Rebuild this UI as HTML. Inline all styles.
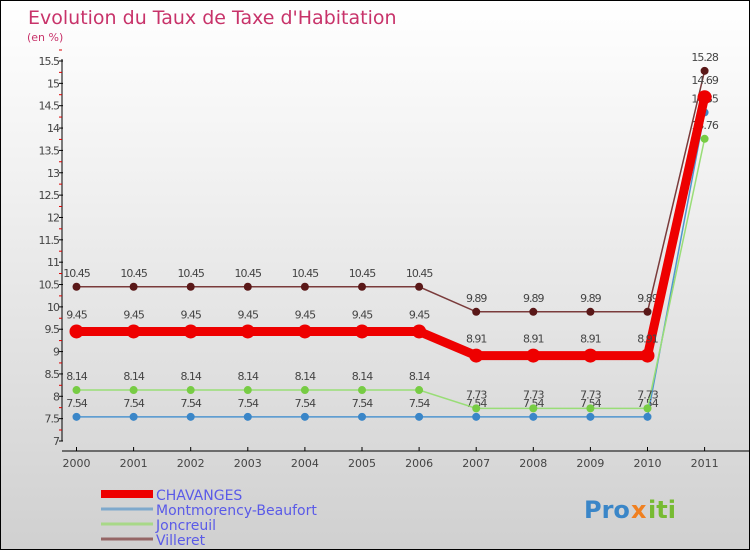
<!DOCTYPE html>
<html><head><meta charset="utf-8"><style>
body{margin:0}
#c{width:750px;height:550px;position:relative;box-sizing:border-box;border:1px solid #000;background:linear-gradient(#ffffff,#f2f2f2 30%,#d0d0d0);font-family:"DejaVu Sans","Liberation Sans",sans-serif;overflow:hidden}
</style></head><body>
<div id="c">
<svg id="s" width="750" height="550" style="position:absolute;left:0;top:0"></svg>
</div>
<script>
const years=["2000","2001","2002","2003","2004","2005","2006","2007","2008","2009","2010","2011"];
const yTicks=[7,7.5,8,8.5,9,9.5,10,10.5,11,11.5,12,12.5,13,13.5,14,14.5,15,15.5];
const chavanges=[9.45,9.45,9.45,9.45,9.45,9.45,9.45,8.91,8.91,8.91,8.91,14.69];
const montmorency=[7.54,7.54,7.54,7.54,7.54,7.54,7.54,7.54,7.54,7.54,7.54,14.35];
const joncreuil=[8.14,8.14,8.14,8.14,8.14,8.14,8.14,7.73,7.73,7.73,7.73,13.76];
const villeret=[10.45,10.45,10.45,10.45,10.45,10.45,10.45,9.89,9.89,9.89,9.89,15.28];
const seriesNames=["CHAVANGES","Montmorency-Beaufort","Joncreuil","Villeret"];
const NS="http://www.w3.org/2000/svg",svg=document.getElementById('s');
function X(i){return 75.5+i*57.1}
function Y(v){return 440-(v-7)*(380/8.5)}
function el(t,a,txt){const e=document.createElementNS(NS,t);for(const k in a)e.setAttribute(k,a[k]);if(txt!==undefined)e.textContent=txt;svg.appendChild(e);return e}
let e;
e=el('text',{x:27,y:23,fill:'#c8336a','font-size':19},'Evolution du Taux de Taxe d\'Habitation');

e=el('text',{x:26,y:40,fill:'#c8336a','font-size':11},'(en %)');

e=el('line',{x1:61,y1:58,x2:61,y2:440,stroke:'#000'});

e=el('line',{x1:61,y1:450,x2:750,y2:450,stroke:'#000'});

yTicks.forEach(v=>{const y=Y(v);
 e=el('line',{x1:58,y1:y,x2:62,y2:y,stroke:'#000'});
 
 e=el('line',{x1:58,y1:y-11,x2:61,y2:y-11,stroke:'#d00'});
 
 e=el('text',{x:58,y:y+4,'text-anchor':'end','font-size':11,fill:'#444','letter-spacing':'-1'},String(v));
 });
years.forEach((yr,i)=>{
 e=el('line',{x1:X(i),y1:446,x2:X(i),y2:450,stroke:'#000'});
 
 e=el('text',{x:X(i),y:466,'text-anchor':'middle','font-size':11,fill:'#444'},yr);
 });
function series(d,color,w,r,mc,name,off){
 e=el('polyline',{points:d.map((v,i)=>X(i)+','+Y(v)).join(' '),fill:'none',stroke:color,'stroke-width':w});
 
 d.forEach((v,i)=>{
  e=el('circle',{cx:X(i),cy:Y(v),r:r,fill:mc});
  
  e=el('text',{x:X(i),y:Y(v)-off,'text-anchor':'middle','font-size':11,fill:'#444','letter-spacing':'-1'},String(v));
  });
}
series(montmorency,'#4f95d0',1.5,4,'#3a86c8','montmorency',10);
series(joncreuil,'#99dd77',1.5,4,'#77cc44','joncreuil',10);
series(villeret,'#7a3b3b',1.5,4,'#5a1818','villeret',10);
series(chavanges,'#ee0000',9,7,'#ee0000','chavanges',13);
const lc=['#ee0000','#7fa9cc','#a8d888','#956666'],lw=[8,3,3,3];
seriesNames.forEach((n,i)=>{const y=493+i*15;
 e=el('line',{x1:100,y1:y,x2:152,y2:y,stroke:lc[i],'stroke-width':lw[i]});
 
 e=el('text',{x:155,y:y+6,'font-size':14,fill:'#5a5ae8'},n);
 });
e=el('text',{x:583,y:517,'font-size':24,'font-weight':'bold',fill:'#3a86c8'},'Pro');

e=el('text',{x:630,y:517,'font-size':24,'font-weight':'bold',fill:'#f08020'},'x');
e=el('text',{x:647,y:517,'font-size':24,'font-weight':'bold',fill:'#77bb33'},'iti');
</script>
</body></html>
